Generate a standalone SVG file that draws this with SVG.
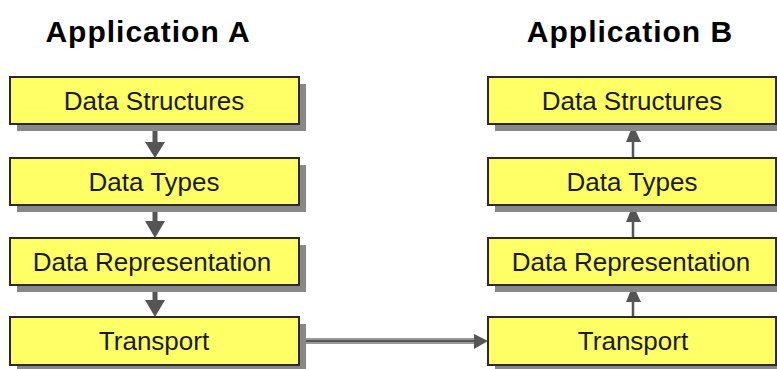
<svg xmlns="http://www.w3.org/2000/svg" width="777" height="369" viewBox="0 0 777 369">
<style>
.title{font-family:"Liberation Sans",Arial,sans-serif;font-weight:bold;font-size:30px;letter-spacing:1px;fill:#000;text-anchor:middle}
.box{fill:#FFFF66;stroke:#2a2a2a;stroke-width:2}
.shadow{fill:#888}
.lbl{font-family:"Liberation Sans",Arial,sans-serif;font-size:26px;fill:#1a1a1a;text-anchor:middle}
.ah{fill:#555}
</style>
<rect width="777" height="369" fill="#fff"/>
<text class="title" x="148" y="42">Application A</text>
<text class="title" x="630" y="42">Application B</text>
<g id="connectors">
<line x1="155" y1="124" x2="155" y2="143" stroke="#555" stroke-width="5"/>
<polygon class="ah" points="145,142 165,142 155,158"/>
<line x1="155" y1="205" x2="155" y2="222" stroke="#555" stroke-width="5"/>
<polygon class="ah" points="145,221 165,221 155,238"/>
<line x1="155" y1="285" x2="155" y2="301" stroke="#555" stroke-width="5"/>
<polygon class="ah" points="145,300 165,300 155,317"/>
<line x1="633" y1="141" x2="633" y2="158" stroke="#555" stroke-width="2.5"/>
<polygon class="ah" points="626,142 641,142 633,125"/>
<line x1="633" y1="221" x2="633" y2="238" stroke="#555" stroke-width="2.5"/>
<polygon class="ah" points="626,222 641,222 633,205"/>
<line x1="633" y1="301" x2="633" y2="317" stroke="#555" stroke-width="2.5"/>
<polygon class="ah" points="626,302 641,302 633,285"/>
<line x1="299" y1="341" x2="476" y2="341" stroke="#999" stroke-width="6"/>
<line x1="299" y1="341" x2="476" y2="341" stroke="#555" stroke-width="2"/>
<polygon class="ah" points="474,334 474,349 488,341"/>
</g>
<g id="a-structures"><rect class="shadow" x="17" y="84" width="289" height="47"/><rect class="box" x="10" y="77" width="289" height="47"/><text class="lbl" x="154" y="110">Data Structures</text></g>
<g id="a-types"><rect class="shadow" x="17" y="165" width="289" height="47"/><rect class="box" x="10" y="158" width="289" height="47"/><text class="lbl" x="154" y="191">Data Types</text></g>
<g id="a-representation"><rect class="shadow" x="17" y="245" width="289" height="47"/><rect class="box" x="10" y="238" width="289" height="47"/><text class="lbl" x="152" y="271">Data Representation</text></g>
<g id="a-transport"><rect class="shadow" x="17" y="324" width="289" height="48"/><rect class="box" x="10" y="317" width="289" height="48"/><text class="lbl" x="154" y="350">Transport</text></g>
<g id="b-structures"><rect class="shadow" x="495" y="84" width="289" height="47"/><rect class="box" x="488" y="77" width="288" height="47"/><text class="lbl" x="632" y="110">Data Structures</text></g>
<g id="b-types"><rect class="shadow" x="495" y="165" width="289" height="47"/><rect class="box" x="488" y="158" width="288" height="47"/><text class="lbl" x="632" y="191">Data Types</text></g>
<g id="b-representation"><rect class="shadow" x="495" y="245" width="289" height="47"/><rect class="box" x="488" y="238" width="288" height="47"/><text class="lbl" x="631" y="271">Data Representation</text></g>
<g id="b-transport"><rect class="shadow" x="495" y="324" width="289" height="48"/><rect class="box" x="488" y="317" width="288" height="48"/><text class="lbl" x="633" y="350">Transport</text></g>
</svg>
